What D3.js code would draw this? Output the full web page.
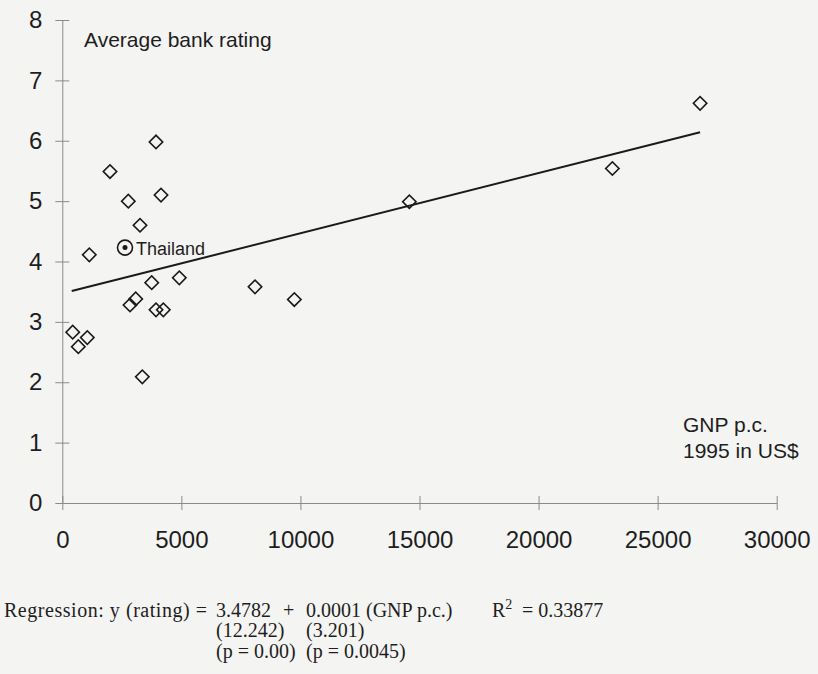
<!DOCTYPE html>
<html>
<head>
<meta charset="utf-8">
<title>Average bank rating vs GNP p.c.</title>
<script src="https://d3js.org/d3.v7.min.js"></script>
<style>
  body { margin: 0; background: #f4f4f2; }
  svg { display: block; }
  .axis path, .axis line { stroke: #8a8a8a; stroke-width: 1; }
  .axis text { font-family: "Liberation Sans", Arial, sans-serif; font-size: 24px; fill: #1e1e1e; }
  .lbl { font-family: "Liberation Sans", Arial, sans-serif; font-size: 21px; fill: #1e1e1e; }
  .reg { font-family: "Liberation Serif", "Times New Roman", serif; font-size: 20px; fill: #1e1e1e; }
</style>
</head>
<body>
<svg id="chart"></svg>
<script>
// values
var gnp    = [437, 672, 1050, 1134, 2003, 2772, 2843, 3083, 3263, 3360, 3755, 3935, 3935, 4145, 4242, 4914, 8093, 9744, 14574, 23099, 26783];
var rating = [2.83, 2.59, 2.74, 4.11, 5.49, 5.00, 3.28, 3.38, 4.60, 2.09, 3.65, 5.98, 3.20, 5.10, 3.20, 3.73, 3.58, 3.37, 4.99, 5.54, 6.62];

var thaiGnp = 2633, thaiRating = 4.23;

// fitted line end points (as drawn)
var fitGnp = [395, 26783];
var fitRating = [3.51, 6.14];

var xTicks = [0, 5000, 10000, 15000, 20000, 25000, 30000];
var yTicks = [0, 1, 2, 3, 4, 5, 6, 7, 8];

var regIntercept = "3.4782";
var regCoef = "0.0001 (GNP p.c.)";
var regT = ["(12.242)", "(3.201)"];
var regP = ["(p = 0.00)", "(p = 0.0045)"];
var r2 = "0.33877";

var svgWidth = 818, svgHeight = 674;

var svg = d3.select('#chart')
    .attr("width", svgWidth)
    .attr("height", svgHeight);

var x = d3.scaleLinear().domain([0, 30000]).range([62.3, 776.7]);
var y = d3.scaleLinear().domain([0, 8]).range([503, 20]);

// x axis, ticks crossing the line
var gx = svg.append("g")
    .attr("class", "axis")
    .attr("transform", "translate(0," + y(0) + ")")
    .call(d3.axisBottom(x).tickValues(xTicks).tickFormat(d3.format("d")).tickSizeOuter(0));
gx.selectAll(".tick line").attr("y1", -7).attr("y2", 7);
gx.selectAll(".tick text").attr("y", 45).attr("dy", 0);

// y axis
var gy = svg.append("g")
    .attr("class", "axis")
    .attr("transform", "translate(" + x(0) + ",0)")
    .call(d3.axisLeft(y).tickValues(yTicks).tickSizeOuter(0));
gy.selectAll(".tick line").attr("x1", -7).attr("x2", 7);
gy.selectAll(".tick text").attr("x", -20);

// regression line
svg.append("path")
    .datum(d3.zip(fitGnp, fitRating))
    .attr("fill", "none")
    .attr("stroke", "#1a1a1a")
    .attr("stroke-width", 2)
    .attr("d", d3.line().x(function(d) { return x(d[0]); }).y(function(d) { return y(d[1]); }));

// diamonds
var diamond = d3.symbol().type(d3.symbolSquare).size(90);
svg.selectAll(".pt")
    .data(d3.zip(gnp, rating))
    .enter()
    .append("path")
    .attr("class", "pt")
    .attr("d", diamond)
    .attr("fill", "none")
    .attr("stroke", "#1a1a1a")
    .attr("stroke-width", 1.6)
    .attr("transform", function(d) {
        return "translate(" + x(d[0]) + "," + y(d[1]) + ") rotate(45)";
    });

// Thailand marker
svg.append("circle")
    .attr("cx", x(thaiGnp)).attr("cy", y(thaiRating)).attr("r", 7.5)
    .attr("fill", "none").attr("stroke", "#1a1a1a").attr("stroke-width", 1.6);
svg.append("circle")
    .attr("cx", x(thaiGnp)).attr("cy", y(thaiRating)).attr("r", 2.5)
    .attr("fill", "#1a1a1a");
svg.append("text")
    .attr("class", "lbl")
    .style("font-size", "18px")
    .attr("x", x(thaiGnp) + 11).attr("y", y(thaiRating) + 7)
    .text("Thailand");

// axis titles
svg.append("text").attr("class", "lbl").attr("x", 84).attr("y", 47).text("Average bank rating");
svg.append("text").attr("class", "lbl").attr("x", 683).attr("y", 432).text("GNP p.c.");
svg.append("text").attr("class", "lbl").attr("x", 683).attr("y", 458).text("1995 in US$");

// regression summary underneath
var line1 = 617, line2 = 637, line3 = 658;
svg.append("text").attr("class", "reg").attr("x", 4).attr("y", line1)
    .attr("textLength", 203).attr("lengthAdjust", "spacing")
    .text("Regression: y (rating) =");
svg.append("text").attr("class", "reg").attr("x", 216).attr("y", line1).text(regIntercept);
svg.append("text").attr("class", "reg").attr("x", 283).attr("y", line1).text("+");
svg.append("text").attr("class", "reg").attr("x", 306).attr("y", line1).text(regCoef);
var r2t = svg.append("text").attr("class", "reg").attr("x", 492).attr("y", line1);
r2t.append("tspan").text("R");
r2t.append("tspan").attr("dy", -8).attr("font-size", 14).text("2");
svg.append("text").attr("class", "reg").attr("x", 522).attr("y", line1).text("= " + r2);

svg.selectAll(".regt")
    .data(regT)
    .enter().append("text")
    .attr("class", "reg")
    .attr("x", function(d, i) { return i == 0 ? 216 : 306; })
    .attr("y", line2)
    .text(function(d) { return d; });
svg.selectAll(".regp")
    .data(regP)
    .enter().append("text")
    .attr("class", "reg")
    .attr("x", function(d, i) { return i == 0 ? 216 : 306; })
    .attr("y", line3)
    .text(function(d) { return d; });
</script>
</body>
</html>
